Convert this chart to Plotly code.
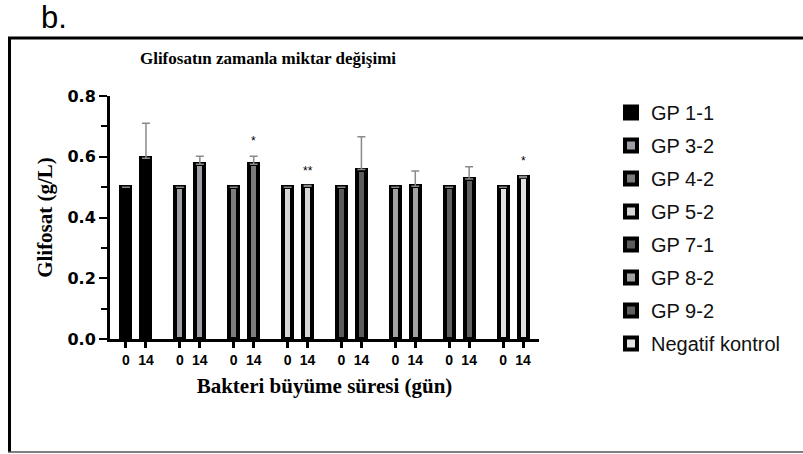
import plotly.graph_objects as go

# ---- data ----
groups = ["GP 1-1", "GP 3-2", "GP 4-2", "GP 5-2", "GP 7-1", "GP 8-2", "GP 9-2", "Negatif kontrol"]
days = ["0", "14"]
day0_mean = [0.50, 0.50, 0.50, 0.50, 0.50, 0.50, 0.50, 0.50]
day14_mean = [0.595, 0.575, 0.575, 0.503, 0.558, 0.503, 0.527, 0.532]
day0_sd = [0.0, 0.0, 0.0, 0.0, 0.0, 0.0, 0.0, 0.0]
day14_sd = [0.115, 0.027, 0.027, 0.002, 0.108, 0.050, 0.040, 0.003]
significance = ["", "", "*", "**", "", "", "", "*"]
fill_colors = ["#000000", "#9e9ea6", "#7c7c7c", "#d6d6d6", "#5c5c5c", "#a2a2a2", "#606060", "#e2e2e2"]

GROUP_GAP = 2.695  # group spacing relative to 0/14 bar spacing

SERIF = "Liberation Serif, Times New Roman, serif"
SANS = "Liberation Sans, Arial, sans-serif"
WIDE = "DejaVu Sans, Verdana, sans-serif"

fig = go.Figure()
tickvals, ticktext = [], []
for i, g in enumerate(groups):
    xs = [i * GROUP_GAP + j for j in range(len(days))]
    tickvals += xs
    ticktext += days
    fig.add_trace(go.Bar(
        x=xs, y=[day0_mean[i], day14_mean[i]],
        name=g, legendgroup=g,
        width=0.45,
        marker=dict(color=fill_colors[i], line=dict(color="#000000", width=4)),
        error_y=dict(type="data", symmetric=False,
                     array=[day0_sd[i], day14_sd[i]], arrayminus=[0, 0],
                     color="#8a8a8a", thickness=1.5, width=4),
    ))
    if significance[i]:
        fig.add_annotation(x=xs[1], y=day14_mean[i] + day14_sd[i], text=significance[i],
                           showarrow=False, yanchor="bottom", yshift=6,
                           font=dict(family=SANS, size=12, color="#000"))

# plot area pixel geometry
L, R, T, B = 110, 539, 96, 339
W, H = 803, 454
def px(xp):
    return (xp - L) / (R - L)
def py(yp):
    return (B - yp) / (B - T)

fig.update_layout(
    width=W, height=H,
    margin=dict(l=L, r=W - R, t=T, b=H - B, autoexpand=False),
    paper_bgcolor="white", plot_bgcolor="white",
    showlegend=True,
    bargap=0,
    title=dict(text="Glifosatın zamanla miktar değişimi", xref="container", x=268 / W,
               xanchor="center", yref="container", y=1 - 58 / H, yanchor="middle",
               font=dict(family=SERIF, size=17, color="#000", weight="bold")),
    legend=dict(x=px(611), xanchor="left", y=py(93), yanchor="top",
                traceorder="grouped", tracegroupgap=4, maxheight=420,
                font=dict(family=SANS, size=20, color="#111"),
                bgcolor="rgba(0,0,0,0)"),
    xaxis=dict(range=[-0.8, 7 * GROUP_GAP + 1 + 0.8], tickmode="array",
               tickvals=tickvals, ticktext=ticktext,
               showline=True, linecolor="#000", linewidth=3,
               ticks="outside", ticklen=6, tickwidth=3, tickcolor="#000",
               tickfont=dict(family=SANS, size=14, color="#000", weight="bold"),
               showgrid=False, zeroline=False,
               title=dict(text="Bakteri büyüme süresi (gün)", standoff=12,
                          font=dict(family=SERIF, size=21, color="#000", weight="bold"))),
    yaxis=dict(range=[0, 0.8], tickmode="array", tickvals=[0, 0.2, 0.4, 0.6, 0.8],
               ticktext=["0.0", "0.2", "0.4", "0.6", "0.8"],
               showline=True, linecolor="#000", linewidth=3,
               ticks="outside", ticklen=8, tickwidth=2, tickcolor="#000",
               minor=dict(tickvals=[0.1, 0.3, 0.5, 0.7], ticks="outside", ticklen=6,
                          tickwidth=2, tickcolor="#000"),
               tickfont=dict(family=WIDE, size=16, color="#000", weight="bold"),
               showgrid=False, zeroline=False,
               title=dict(text="Glifosat (g/L)", standoff=10,
                          font=dict(family=SERIF, size=21, color="#000", weight="bold"))),
)

# outer frame and panel label
fig.add_shape(type="line", xref="paper", yref="paper", x0=px(8), x1=px(803), y0=py(38), y1=py(38),
              line=dict(color="#000", width=3))
fig.add_shape(type="line", xref="paper", yref="paper", x0=px(9.5), x1=px(9.5), y0=py(37), y1=py(452),
              line=dict(color="#000", width=3))
fig.add_shape(type="line", xref="paper", yref="paper", x0=px(8), x1=px(803), y0=py(452), y1=py(452),
              line=dict(color="#555", width=1.5))
fig.add_annotation(text="b.", xref="paper", yref="paper", x=px(39), y=py(17), xanchor="left",
                   yanchor="middle", showarrow=False,
                   font=dict(family=SANS, size=31, color="#000"))

fig.write_html("out.html", config={"displayModeBar": False},
               post_script="document.body.style.margin='0';document.body.style.overflow='hidden';")
